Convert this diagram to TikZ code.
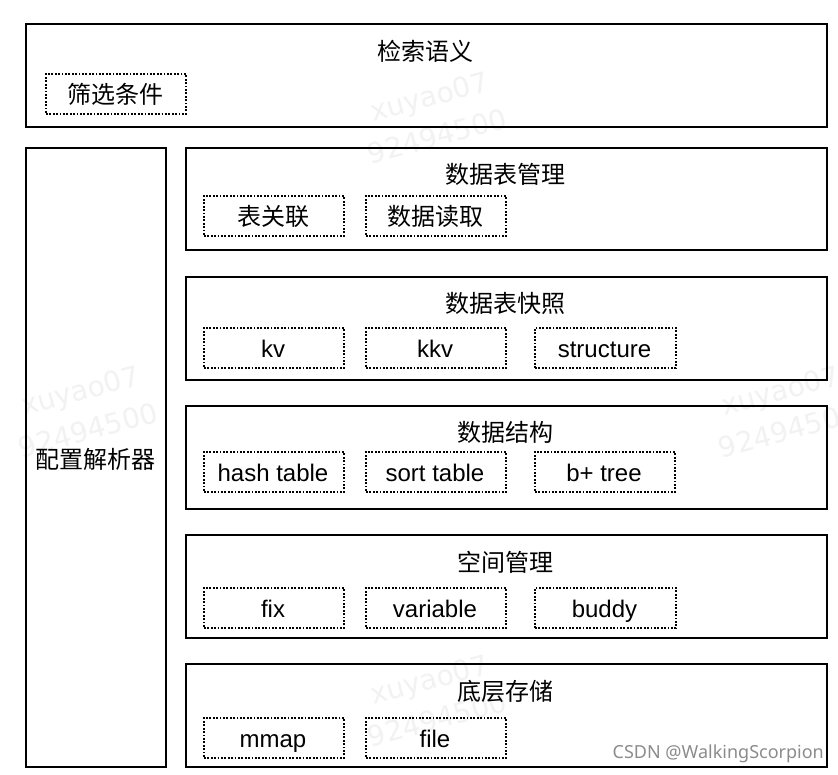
\documentclass[tikz,border=0pt]{standalone}
\usepackage{fontspec}
\setmainfont{Liberation Sans}
\newfontfamily\cjk{Noto Sans CJK SC}
\newfontfamily\wm{DejaVu Sans}
\newfontfamily\creditfont{Noto Sans}
\newcommand\lft{\kern-2pt}
\tikzset{
  outerbox/.style={draw=black,line width=2pt,rectangle,inner sep=0pt,outer sep=0pt,anchor=north west},
  dotbox/.style={draw=black,line width=1.8pt,dash pattern=on 1.8pt off 1.6pt,rectangle,inner sep=0pt,outer sep=0pt,minimum width=140pt,minimum height=40pt,text height=19pt,text depth=0pt,font=\fontsize{24}{24}\selectfont},
  titletext/.style={inner sep=0pt,font=\fontsize{24}{24}\selectfont\cjk},
  cjkbox/.style={draw=black,line width=1.8pt,dash pattern=on 1.8pt off 1.6pt,rectangle,inner sep=0pt,outer sep=0pt,minimum width=140pt,minimum height=40pt,font=\fontsize{24}{24}\selectfont\cjk},
  mark text/.style={inner sep=0pt,text=black!5,rotate=15,font=\fontsize{28}{28}\selectfont\wm},
  credit/.style={inner sep=0pt,text=black!45,font=\fontsize{18}{18}\selectfont\creditfont},
}
\begin{document}
\begin{tikzpicture}[x=1pt,y=-1pt]
\clip (0,0) rectangle (838,774);
\fill[white] (0,0) rectangle (838,774);
% faint watermarks
\foreach \i/\mx/\my in {a/430/99,b/81/393,c/781/393,d/430/682}{
  \node[mark text] (w\i1) at (\mx,\my) {xuyao07};
  \node[mark text] (w\i2) at (\mx+7,\my+37) {92494500};
}
% outer boxes
\node[outerbox,minimum width=801pt,minimum height=103pt] (search) at (26,24) {};
\node[outerbox,minimum width=140pt,minimum height=619pt] (config) at (26,148) {};
\node[outerbox,minimum width=641pt,minimum height=102pt] (table)  at (186,148) {};
\node[outerbox,minimum width=641pt,minimum height=103pt] (snap)   at (186,277) {};
\node[outerbox,minimum width=641pt,minimum height=103pt] (struct) at (186,406) {};
\node[outerbox,minimum width=641pt,minimum height=103pt] (space)  at (186,535) {};
\node[outerbox,minimum width=641pt,minimum height=103pt] (store)  at (186,664) {};
% titles
\node[titletext] (t0) at (425,51) {检索语义};
\node[titletext] (t1) at (505,174) {数据表管理};
\node[titletext] (t2) at (505,303) {数据表快照};
\node[titletext] (t3) at (505,432) {数据结构};
\node[titletext] (t4) at (505,562) {空间管理};
\node[titletext] (t5) at (505,691) {底层存储};
\node[titletext] (t6) at (95,459) {配置解析器};
% inner dotted boxes
\node[cjkbox] (filter) at (116,94) {\lft 筛选条件};
\node[cjkbox] (join) at (274,216) {\lft 表关联};
\node[cjkbox] (read) at (436,216) {\lft 数据读取};
\node[dotbox] (kv) at (274,348) {\lft kv};
\node[dotbox] (kkv) at (436,348) {\lft kkv};
\node[dotbox,minimum width=141pt] (structure) at (605.5,348) {\lft structure};
\node[dotbox] (hash) at (274,472) {\lft hash table};
\node[dotbox] (sort) at (436,472) {\lft sort table};
\node[dotbox] (bplus) at (605,472) {\lft b+ tree};
\node[dotbox] (fix) at (274,608) {\lft fix};
\node[dotbox] (variable) at (436,608) {\lft variable};
\node[dotbox,minimum width=141pt] (buddy) at (605.5,608) {\lft buddy};
\node[dotbox] (mmap) at (274,738) {\lft mmap};
\node[dotbox] (file) at (436,738) {\lft file};
\node[credit,anchor=east] (csdn) at (824,754) {CSDN @WalkingScorpion};
\end{tikzpicture}
\end{document}
